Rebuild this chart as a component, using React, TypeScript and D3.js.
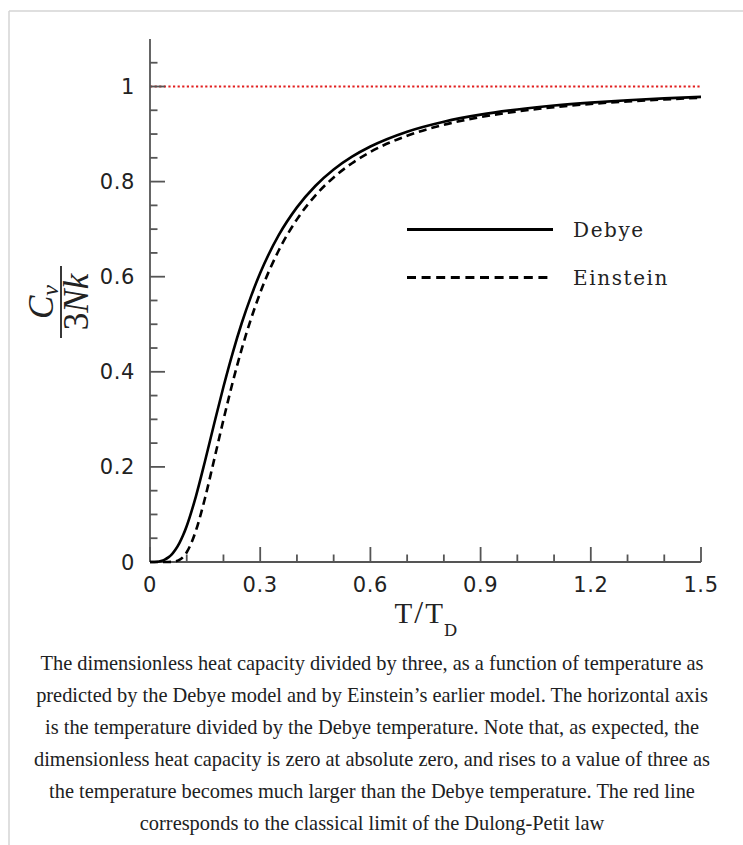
import React from "react";
import * as d3 from "d3";

const debyeT = [0, 0.02, 0.03, 0.04, 0.05, 0.06, 0.07, 0.08, 0.09, 0.1, 0.125, 0.15, 0.175, 0.2, 0.225, 0.25, 0.275, 0.3, 0.35, 0.4, 0.45, 0.5, 0.55, 0.6, 0.7, 0.8, 0.9, 1.0, 1.1, 1.2, 1.3, 1.4, 1.5];
const debyeCv = [0, 0.0006, 0.0021, 0.005, 0.0097, 0.0168, 0.0267, 0.0397, 0.0561, 0.0758, 0.1382, 0.213, 0.2918, 0.3686, 0.4395, 0.5031, 0.5586, 0.6077, 0.6868, 0.7458, 0.7908, 0.8255, 0.8524, 0.8738, 0.905, 0.926, 0.9409, 0.9517, 0.9599, 0.9661, 0.971, 0.975, 0.9781];

const einsteinT = [0, 0.04, 0.05, 0.06, 0.07, 0.08, 0.09, 0.1, 0.11, 0.125, 0.15, 0.175, 0.2, 0.225, 0.25, 0.275, 0.3, 0.35, 0.4, 0.45, 0.5, 0.55, 0.6, 0.7, 0.8, 0.9, 1.0, 1.1, 1.2, 1.3, 1.4, 1.5];
const einsteinCv = [0, 0.0, 0.00003, 0.0003, 0.0013, 0.0043, 0.0104, 0.0205, 0.0354, 0.0661, 0.1352, 0.2164, 0.2991, 0.3777, 0.4487, 0.5113, 0.5662, 0.6545, 0.7206, 0.7706, 0.8088, 0.8387, 0.8623, 0.8965, 0.9195, 0.9358, 0.9476, 0.9564, 0.9633, 0.9686, 0.9728, 0.9763];

const classicalLimit = 1;

const xTickValues = [0, 0.3, 0.6, 0.9, 1.2, 1.5];
const xTickLabels = ["0", "0.3", "0.6", "0.9", "1.2", "1.5"];
const yTickValues = [0, 0.2, 0.4, 0.6, 0.8, 1];
const yTickLabels = ["0", "0.2", "0.4", "0.6", "0.8", "1"];

const legendLabels = ["Debye", "Einstein"];

const captionLines = [
  "The dimensionless heat capacity divided by three, as a function of temperature as",
  "predicted by the Debye model and by Einstein\u2019s earlier model. The horizontal axis",
  "is the temperature divided by the Debye temperature. Note that, as expected, the",
  "dimensionless heat capacity is zero at absolute zero, and rises to a value of three as",
  "the temperature becomes much larger than the Debye temperature. The red line",
  "corresponds to the classical limit of the Dulong-Petit law",
];

export default function App() {
  const W = 743;
  const H = 845;
  const x = d3.scaleLinear().domain([0, 1.5]).range([150, 701]);
  const y = d3.scaleLinear().domain([0, 1]).range([562, 86.5]);
  const yMax = 1.1;

  const line = d3
    .line<[number, number]>()
    .x((d) => x(d[0]))
    .y((d) => y(d[1]))
    .curve(d3.curveMonotoneX);

  const debyePts: [number, number][] = debyeT.map((t, i) => [t, debyeCv[i]]);
  const einsteinPts: [number, number][] = einsteinT.map((t, i) => [t, einsteinCv[i]]);

  const yMinor = d3.range(0, 22).map((i) => i * 0.05);
  const xMinor = d3.range(0, 16).map((i) => i * 0.1);
  const axisColor = "#555";
  const majorLen = 15;
  const minorLen = 7.5;

  return (
    <svg
      width={W}
      height={H}
      style={{ position: "absolute", left: 0, top: 0, background: "#fff" }}
    >
      {/* frame */}
      <line x1={9} y1={11} x2={W} y2={11} stroke="#d4d4d4" strokeWidth={1.5} />
      <line x1={9} y1={11} x2={9} y2={H} stroke="#d4d4d4" strokeWidth={1.5} />

      {/* red classical limit */}
      <line
        x1={x(0)}
        x2={x(1.5)}
        y1={y(classicalLimit)}
        y2={y(classicalLimit)}
        stroke="#e21f1f"
        strokeWidth={2.2}
        strokeDasharray="2.2 2.4"
      />

      {/* axes */}
      <line x1={x(0)} x2={x(0)} y1={y(0)} y2={y(yMax)} stroke={axisColor} strokeWidth={1.8} />
      <line x1={x(0)} x2={x(1.5)} y1={y(0)} y2={y(0)} stroke={axisColor} strokeWidth={1.8} />

      {yMinor.map((v, i) => {
        const major = i % 4 === 0;
        return (
          <line
            key={"yt" + i}
            x1={x(0)}
            x2={x(0) + (major ? majorLen : minorLen)}
            y1={y(v)}
            y2={y(v)}
            stroke={axisColor}
            strokeWidth={1.8}
          />
        );
      })}
      {xMinor.map((v, i) => {
        const major = i % 3 === 0;
        return (
          <line
            key={"xt" + i}
            x1={x(v)}
            x2={x(v)}
            y1={y(0)}
            y2={y(0) - (major ? majorLen : minorLen)}
            stroke={axisColor}
            strokeWidth={1.8}
          />
        );
      })}

      {yTickValues.map((v, i) => (
        <text
          key={"yl" + i}
          x={135}
          y={y(v) + 7.5}
          textAnchor="end"
          fontFamily="DejaVu Sans"
          fontSize={21}
          letterSpacing={0.6}
          fill="#222"
        >
          {yTickLabels[i]}
        </text>
      ))}
      {xTickValues.map((v, i) => (
        <text
          key={"xl" + i}
          x={x(v)}
          y={592}
          textAnchor="middle"
          fontFamily="DejaVu Sans"
          fontSize={21}
          letterSpacing={0.6}
          fill="#222"
        >
          {xTickLabels[i]}
        </text>
      ))}

      {/* curves */}
      <path d={line(debyePts) || ""} fill="none" stroke="#000" strokeWidth={2.6} />
      <path
        d={line(einsteinPts) || ""}
        fill="none"
        stroke="#000"
        strokeWidth={2.6}
        strokeDasharray="8 5"
      />

      {/* legend */}
      <line x1={407} x2={553} y1={229.5} y2={229.5} stroke="#000" strokeWidth={2.8} />
      <line x1={407} x2={553} y1={277.5} y2={277.5} stroke="#000" strokeWidth={2.8} strokeDasharray="9 5.6" />
      <text x={573} y={237} fontFamily="DejaVu Serif" fontSize={20} letterSpacing={1.6} fill="#222">
        {legendLabels[0]}
      </text>
      <text x={573} y={285} fontFamily="DejaVu Serif" fontSize={20} letterSpacing={1.6} fill="#222">
        {legendLabels[1]}
      </text>

      {/* x label */}
      <text x={426} y={623} textAnchor="middle" fontFamily="Liberation Serif" fontSize={29} fill="#222">
        <tspan>T</tspan>
        <tspan dx={2} fontSize={32}>/</tspan>
        <tspan dx={2}>T</tspan>
        <tspan dx={1} dy={13} fontSize={17} fontFamily="DejaVu Serif">D</tspan>
      </text>

      {/* y label: fraction */}
      <g transform="translate(61,302) rotate(-90)">
        <text x={0} y={-8} textAnchor="middle" fontFamily="Liberation Serif" fontStyle="italic" fontSize={35} fill="#222">
          <tspan>C</tspan>
          <tspan dy={5} fontSize={24}>v</tspan>
        </text>
        <line x1={-36} x2={36} y1={0} y2={0} stroke="#222" strokeWidth={1.8} />
        <text x={0} y={27} textAnchor="middle" fontFamily="Liberation Serif" fontSize={35} fill="#222">
          <tspan>3</tspan>
          <tspan fontStyle="italic">Nk</tspan>
        </text>
      </g>

      {/* caption */}
      {captionLines.map((s, i) => (
        <text
          key={"c" + i}
          x={372}
          y={670 + i * 32}
          textAnchor="middle"
          fontFamily="Liberation Serif"
          fontSize={20.4}
          fill="#202122"
        >
          {s}
        </text>
      ))}
    </svg>
  );
}
